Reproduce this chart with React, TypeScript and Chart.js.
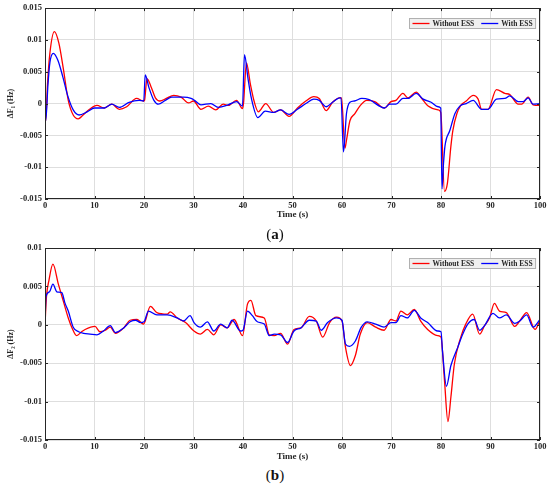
import React, { useEffect, useRef } from "react";
import { Chart, registerables } from "chart.js";

Chart.register(...registerables);

// ---------- data ----------
const xTicks = [0, 10, 20, 30, 40, 50, 60, 70, 80, 90, 100];
const xTickLabels = ["0", "10", "20", "30", "40", "50", "60", "70", "80", "90", "100"];

const yTicksTop = [-0.015, -0.01, -0.005, 0, 0.005, 0.01, 0.015];
const yTickLabelsTop = ["-0.015", "-0.01", "-0.005", "0", "0.005", "0.01", "0.015"];
const yTicksBottom = [-0.015, -0.01, -0.005, 0, 0.005, 0.01];
const yTickLabelsBottom = ["-0.015", "-0.01", "-0.005", "0", "0.005", "0.01"];

const seriesNames = ["Without ESS", "With ESS"];

// (a) ΔF1 — Without ESS
const topRedT = [0, 0.15, 0.5, 1.0, 1.9, 2.8, 3.7, 4.7, 5.7, 6.7, 7.7, 9, 10.5, 12, 13.5, 15, 16.5, 18.5, 19.9, 20.1, 20.6, 21.5, 22.3, 23.2, 24.5, 26, 27.5, 29, 30, 31.5, 33, 34.5, 36, 37, 38.7, 39.9, 40.1, 40.7, 41.5, 42.3, 43.1, 44.6, 46.2, 47.6, 49.3, 51, 52.7, 54.3, 55.4, 56.8, 58.1, 59.5, 59.9, 60.6, 60.9, 61.6, 62.6, 63.6, 65, 66.6, 68.6, 69.9, 70.9, 72.3, 73.3, 75, 76, 77.4, 79.4, 79.95, 80.7, 81.3, 82, 82.4, 83.2, 84, 85.1, 86.5, 87.5, 88.2, 89.5, 91.2, 92.9, 93.9, 95.6, 96.3, 97.6, 98.6, 100];
const topRedY = [0, -0.0027, 0.003, 0.008, 0.0113, 0.0095, 0.0055, 0.0005, -0.0018, -0.0024, -0.0018, -0.0009, -0.0003, -0.0007, -0.0001, -0.0009, -0.0005, 0.0008, 0.0004, 0.0005, 0.0039, 0.0025, 0.0009, 0.0004, 0.0008, 0.0013, 0.001, 0.0001, 0.0004, -0.0009, -0.0004, -0.001, -0.0001, -0.0003, 0.0005, -0.0008, 0, 0.0064, 0.003, 0.0002, -0.0013, 0, -0.0014, -0.001, -0.002, -0.0007, 0.0004, 0.0011, 0.0008, -0.0011, 0.0002, 0.0009, 0.0009, -0.007, -0.0058, -0.0027, -0.0016, -0.0004, 0.0005, 0.0003, -0.0007, 0.0003, 0.0005, 0.0016, 0.0009, 0.0018, 0.0009, -0.0004, -0.001, -0.0014, -0.0138, -0.0125, -0.0067, -0.0042, -0.0016, -0.0003, 0.0004, 0.0013, 0.0007, -0.0009, -0.0009, 0.0022, 0.0016, 0.0014, -0.0001, -0.0001, 0.001, -0.0002, -0.0003];

// (a) ΔF1 — With ESS
const topBlueT = [0, 0.15, 0.6, 1.0, 1.7, 2.6, 3.6, 4.6, 5.7, 6.9, 8.5, 10, 12, 13.5, 15, 17, 19, 19.95, 20.25, 21, 22, 22.9, 24.3, 25.6, 28, 29.5, 30.2, 31.5, 33.5, 35, 37, 38.7, 39.9, 40.3, 41, 41.7, 43, 44.5, 46.2, 47.6, 49.3, 51, 52.7, 54.3, 55.4, 56.8, 58.1, 59.5, 59.8, 60.3, 60.9, 61.6, 62.5, 64, 65.5, 68.6, 69.6, 70.9, 72.3, 73.3, 75, 76.4, 78, 79.4, 79.95, 80.2, 80.5, 80.8, 81.8, 82.8, 83.8, 85.1, 86.5, 88.2, 89.5, 91.2, 92.9, 93.9, 95.6, 96.6, 97.6, 98.6, 100];
const topBlueY = [0, -0.0027, 0.003, 0.0065, 0.0079, 0.0068, 0.0042, 0.0012, -0.001, -0.0018, -0.0013, -0.0007, -0.0007, -0.0001, -0.0006, 0.0002, 0.0005, 0.0004, 0.0045, 0.0025, 0.0005, -0.0001, 0.0005, 0.001, 0.001, 0.0008, 0.0005, -0.0002, 0, -0.0006, -0.0002, 0.0003, -0.0004, 0.0077, 0.004, 0.0008, -0.0022, -0.0012, -0.0014, -0.001, -0.0017, -0.0009, 0, 0.0007, 0.0005, -0.0005, 0.0002, 0.0009, 0.0009, -0.0076, -0.0016, 0.0002, 0.0004, 0.0008, 0.0006, -0.0007, -0.0001, -0.0001, 0.0008, 0.0008, 0.0016, 0.0007, 0.0002, -0.0005, -0.0007, -0.0134, -0.0095, -0.0067, -0.0042, -0.0016, -0.0004, 0, 0.0005, -0.0009, -0.0009, 0.0007, 0.0008, 0.0012, 0.0003, 0.0003, 0.0009, -0.0001, 0];

// (b) ΔF2 — Without ESS
const botRedT = [0, 0.3, 0.8, 1.6, 2.7, 3.7, 4.7, 5.4, 6.4, 7.4, 8.1, 10.1, 11.1, 12.2, 13.2, 14.2, 15.9, 17.2, 18.6, 19.9, 21.3, 22.6, 24.7, 25.3, 26.7, 28.4, 30.1, 31.4, 32.8, 34.1, 35.5, 36.8, 38.2, 39.9, 40.9, 41.6, 42.6, 44.3, 45.3, 46.3, 47.6, 49, 50.3, 51.7, 53.4, 54.8, 56.1, 57.5, 58.9, 60, 60.7, 61.7, 62.7, 63.7, 65.1, 66.8, 68.5, 69.9, 70.9, 71.9, 73.2, 74.6, 75.9, 77.3, 79.3, 80, 80.7, 81.4, 82, 82.7, 84, 85, 86.4, 87.8, 88.8, 89.8, 90.8, 91.8, 93.2, 94.9, 95.9, 97.3, 99, 100];
const botRedY = [0, 0.0037, 0.0058, 0.0079, 0.0053, 0.0031, 0.0009, -0.0003, -0.0014, -0.0009, -0.0006, -0.0002, -0.0009, -0.0007, -0.0003, -0.0011, -0.0004, 0.0006, 0.0007, 0.0001, 0.0024, 0.0016, 0.0014, 0.0017, 0.0009, 0.0003, -0.0008, -0.0012, -0.0006, -0.0013, 0, -0.0004, 0.0007, -0.0014, 0.0027, 0.0032, 0.0012, 0.0009, -0.0013, -0.0014, -0.0011, -0.0025, -0.0006, -0.0004, 0.0011, 0.0005, -0.0016, 0.0003, 0.001, 0.0005, -0.0029, -0.0053, -0.004, -0.0012, 0.0003, -0.0003, -0.0007, 0.0007, 0.0005, 0.0018, 0.0013, 0.002, 0.0005, -0.0006, -0.0014, -0.0016, -0.0072, -0.0126, -0.0094, -0.0051, -0.0016, 0.0001, 0.0014, -0.0012, -0.0001, 0.0009, 0.0028, 0.0018, 0.0016, -0.0002, 0.0005, 0.0016, -0.0006, 0.0006];

// (b) ΔF2 — With ESS
const botBlueT = [0, 0.2, 0.9, 1.6, 2.4, 3.4, 4, 4.7, 5.7, 6.8, 7.8, 9.1, 10.5, 11.8, 13.2, 14.2, 15.9, 17.2, 18.3, 19.3, 20, 20.9, 22.6, 24.7, 26.7, 28, 29.3, 30.1, 31.4, 32.8, 34.1, 35.5, 36.8, 37.8, 39.5, 40, 40.9, 41.9, 42.9, 44.3, 45.3, 46.3, 47.6, 49, 50.3, 51.7, 53.4, 54.8, 55.8, 57.1, 58.9, 60, 60.7, 61.5, 62.7, 63.9, 65.1, 66.8, 68.5, 69.9, 70.9, 71.9, 73.2, 74.6, 75.9, 77.3, 79.3, 80, 80.3, 81.1, 82, 83.4, 84.4, 85.4, 86.7, 87.8, 88.8, 90.5, 91.8, 93.2, 94.9, 95.9, 97.3, 98.6, 100];
const botBlueY = [0, 0.0037, 0.0043, 0.0053, 0.0043, 0.0042, 0.0029, 0.0018, -0.0003, -0.0009, -0.0011, -0.0012, -0.0013, -0.0008, -0.0001, -0.001, -0.0004, 0.0004, 0.0006, 0.0003, 0.0004, 0.0018, 0.0013, 0.0013, 0.0009, 0.0005, 0.0012, 0.0003, -0.0003, 0.0004, -0.0008, 0.0001, -0.0004, 0.0006, -0.0008, -0.0007, 0.0018, 0.0012, 0.0004, 0.0001, -0.0014, -0.0012, -0.0013, -0.0023, -0.0008, -0.0004, 0.0006, 0.0005, -0.0007, 0.0003, 0.0009, 0.0006, -0.0025, -0.0028, -0.0021, -0.0003, 0.0004, 0.0001, -0.0003, 0.0003, 0.0003, 0.0012, 0.0009, 0.0019, 0.0009, 0.0003, -0.0008, -0.0009, -0.0034, -0.008, -0.0053, -0.0029, -0.0012, 0.0001, 0.0007, -0.0007, -0.0001, 0.0015, 0.0009, 0.0013, 0.0002, 0.0005, 0.0013, -0.0003, 0.0007];

// ---------- styling ----------
const FONT = "'Liberation Serif', 'Times New Roman', serif";
const TEXT = "#262626";
const GRID = "#dedede";
const RED = "#ff0000";
const BLUE = "#0000ff";

const toPoints = (t: number[], y: number[]) => t.map((tv, i) => ({ x: tv, y: y[i] }));

const framePlugin = {
  id: "frameLegend",
  afterDatasetsDraw(chart: any) {
    const { ctx, chartArea: a, scales } = chart;
    ctx.save();
    // inward tick marks
    ctx.strokeStyle = TEXT;
    ctx.lineWidth = 1;
    const tl = 3;
    ctx.beginPath();
    scales.x.ticks.forEach((t: any) => {
      const px = Math.round(scales.x.getPixelForValue(t.value)) + 0.5;
      ctx.moveTo(px, a.bottom);
      ctx.lineTo(px, a.bottom - tl);
      ctx.moveTo(px, a.top);
      ctx.lineTo(px, a.top + tl);
    });
    scales.y.ticks.forEach((t: any) => {
      const py = Math.round(scales.y.getPixelForValue(t.value)) + 0.5;
      ctx.moveTo(a.left, py);
      ctx.lineTo(a.left + tl, py);
      ctx.moveTo(a.right, py);
      ctx.lineTo(a.right - tl, py);
    });
    ctx.stroke();
    // frame box
    ctx.strokeRect(Math.round(a.left) + 0.5, Math.round(a.top) + 0.5, Math.round(a.right - a.left) - 1, Math.round(a.bottom - a.top) - 1);

    // legend
    const ds = chart.data.datasets;
    ctx.font = `bold 7.5px ${FONT}`;
    const lineLen = 17;
    const w0 = ctx.measureText(ds[0].label).width;
    const w1 = ctx.measureText(ds[1].label).width;
    const boxW = 3 + lineLen + 3 + w0 + 7 + lineLen + 3 + w1 + 3;
    const boxH = 10;
    const bx = Math.round(a.right - 5 - boxW) + 0.5;
    const by = Math.round(a.top + 10) + 0.5;
    ctx.fillStyle = "#efefef";
    ctx.fillRect(bx, by, boxW, boxH);
    ctx.strokeStyle = "#b0b0b0";
    ctx.lineWidth = 1;
    ctx.strokeRect(bx, by, boxW, boxH);
    const cy = by + boxH / 2;
    let x = bx + 3;
    ctx.lineWidth = 1.3;
    ctx.strokeStyle = ds[0].borderColor;
    ctx.beginPath();
    ctx.moveTo(x, cy);
    ctx.lineTo(x + lineLen, cy);
    ctx.stroke();
    x += lineLen + 3;
    ctx.fillStyle = TEXT;
    ctx.textBaseline = "middle";
    ctx.textAlign = "left";
    ctx.fillText(ds[0].label, x, cy + 0.5);
    x += w0 + 7;
    ctx.strokeStyle = ds[1].borderColor;
    ctx.beginPath();
    ctx.moveTo(x, cy);
    ctx.lineTo(x + lineLen, cy);
    ctx.stroke();
    x += lineLen + 3;
    ctx.fillText(ds[1].label, x, cy + 0.5);
    ctx.restore();
  },
};

function makeConfig(
  red: { x: number; y: number }[],
  blue: { x: number; y: number }[],
  yTicks: number[],
  yLabels: string[],
  yTitle: string,
  padTop: number,
  xAxisH: number,
  titlePadBottom: number
): any {
  const tickFont = { family: FONT, size: 8.5, weight: "bold" as const };
  return {
    type: "line",
    data: {
      datasets: [
        {
          label: seriesNames[0],
          data: red,
          borderColor: RED,
          borderWidth: 1.3,
          pointRadius: 0,
          cubicInterpolationMode: "monotone",
          fill: false,
          order: 2,
        },
        {
          label: seriesNames[1],
          data: blue,
          borderColor: BLUE,
          borderWidth: 1.3,
          pointRadius: 0,
          cubicInterpolationMode: "monotone",
          fill: false,
          order: 1,
        },
      ],
    },
    options: {
      responsive: false,
      animation: false,
      devicePixelRatio: 1,
      layout: { padding: { top: padTop, right: 10, left: 0, bottom: 0 } },
      plugins: { legend: { display: false }, tooltip: { enabled: false } },
      scales: {
        x: {
          type: "linear",
          min: 0,
          max: 100,
          afterBuildTicks: (s: any) => {
            s.ticks = xTicks.map((v) => ({ value: v }));
          },
          afterFit: (s: any) => {
            s.height = xAxisH;
          },
          ticks: {
            font: tickFont,
            color: TEXT,
            padding: 2,
            maxRotation: 0,
            autoSkip: false,
            callback: (_v: any, i: number) => xTickLabels[i],
          },
          grid: { color: GRID, drawTicks: false, lineWidth: 1 },
          border: { display: false },
          title: {
            display: true,
            text: "Time (s)",
            color: TEXT,
            font: { family: FONT, size: 9, weight: "bold" },
            padding: { top: 0, bottom: titlePadBottom },
          },
        },
        y: {
          type: "linear",
          min: yTicks[0],
          max: yTicks[yTicks.length - 1],
          afterBuildTicks: (s: any) => {
            s.ticks = yTicks.map((v) => ({ value: v }));
          },
          afterFit: (s: any) => {
            s.width = 45;
          },
          ticks: {
            font: tickFont,
            color: TEXT,
            padding: 3,
            autoSkip: false,
            callback: (_v: any, i: number) => yLabels[i],
          },
          grid: { color: GRID, drawTicks: false, lineWidth: 1 },
          border: { display: false },
          title: {
            display: true,
            text: yTitle,
            color: TEXT,
            font: { family: FONT, size: 8, weight: "bold" },
            padding: { top: 6, bottom: 0 },
          },
        },
      },
    },
    plugins: [framePlugin],
  };
}

function ChartCanvas(props: { config: any; top: number; height: number }) {
  const ref = useRef<HTMLCanvasElement | null>(null);
  useEffect(() => {
    if (!ref.current) return;
    const chart = new Chart(ref.current, props.config);
    return () => chart.destroy();
  }, []);
  return (
    <canvas
      ref={ref}
      width={550}
      height={props.height}
      style={{ position: "absolute", left: 0, top: props.top, width: 550, height: props.height, display: "block" }}
    />
  );
}

export default function App() {
  const topConfig = makeConfig(
    toPoints(topRedT, topRedY),
    toPoints(topBlueT, topBlueY),
    yTicksTop,
    yTickLabelsTop,
    "ΔF\u2081 (Hz)",
    6,
    23,
    1.5
  );
  const bottomConfig = makeConfig(
    toPoints(botRedT, botRedY),
    toPoints(botBlueT, botBlueY),
    yTicksBottom,
    yTickLabelsBottom,
    "ΔF\u2082 (Hz)",
    6.7,
    22,
    0.2
  );
  const capStyle: React.CSSProperties = {
    position: "absolute",
    left: 0,
    width: 550,
    textAlign: "center",
    fontFamily: FONT,
    fontSize: 15,
    color: "#111",
    lineHeight: "16px",
  };
  return (
    <div style={{ position: "absolute", left: 0, top: 0, width: 550, height: 486, background: "#fff", overflow: "hidden" }}>
      <ChartCanvas config={topConfig} top={0} height={222} />
      <ChartCanvas config={bottomConfig} top={240} height={222} />
      <div style={{ ...capStyle, top: 226 }}>
        (<b>a</b>)
      </div>
      <div style={{ ...capStyle, top: 467 }}>
        (<b>b</b>)
      </div>
    </div>
  );
}
